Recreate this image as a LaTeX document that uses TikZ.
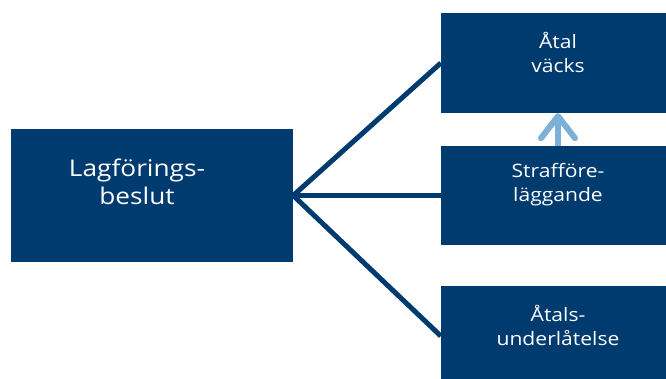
\documentclass[tikz,border=0pt]{standalone}
\usepackage{fontspec}
\setmainfont{Open Sans}
\newfontfamily\boxfont[FakeStretch=1.14]{Open Sans}
\usetikzlibrary{arrows.meta}
\definecolor{navy}{RGB}{0,59,112}
\definecolor{sky}{RGB}{124,176,214}

\begin{document}
\begin{tikzpicture}[x=1pt,y=-1pt, box/.style={fill=navy,inner sep=0pt}, boxtext/.style={text=white,align=center,inner sep=0pt}, link/.style={navy,line width=5pt}, raise/.style={-{Straight Barb[length=22pt,width=34pt,round]}, sky, line width=6pt}]
\clip (0,0) rectangle (666,378); \useasboundingbox (0,0) rectangle (666,378);
\node[box, minimum width=282pt, minimum height=133pt] (L) at (152,195.5) {};
\node[box, minimum width=234pt, minimum height=100pt] (A) at (558,63) {};
\node[box, minimum width=234pt, minimum height=99pt] (S) at (558,195.5) {};
\node[box, minimum width=234pt, minimum height=100pt] (U) at (558,336) {};
\node[boxtext, font=\boxfont\fontsize{23}{28}\selectfont] (Lt) at (137,181.5) {Lagförings-\\beslut};
\node[boxtext, font=\boxfont\fontsize{18.5}{24.5}\selectfont] (At) at (558,52.5) {Åtal\\väcks};
\node[boxtext, font=\boxfont\fontsize{18.5}{24.5}\selectfont] (St) at (558,184.5) {Strafföre-\\läggande};
\node[boxtext, font=\boxfont\fontsize{18.5}{24.5}\selectfont] (Ut) at (558,325.5) {Åtals-\\underlåtelse};
\draw[link] (L.east) -- (A.west); \draw[link] (L.east) -- (S.west); \draw[link] (L.east) -- (U.west);
\draw[raise] (S.north) -- (A.south);
\end{tikzpicture}
\end{document}
